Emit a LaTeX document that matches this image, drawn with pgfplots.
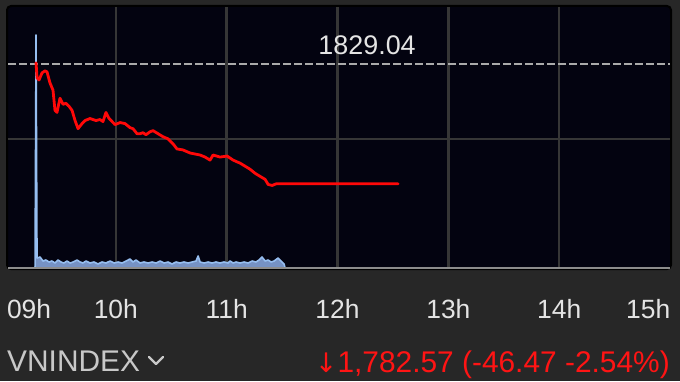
\documentclass[border=0pt]{standalone}
\usepackage{pgfplots}
\pgfplotsset{compat=1.18}
\usepackage{pgfplotstable}
\usepackage{fontspec}
\setmainfont{Liberation Sans}
\newfontfamily\dejavu{DejaVu Sans}

\definecolor{bgdark}{RGB}{39,39,39}
\definecolor{plotbg}{RGB}{3,3,16}
\definecolor{gridgray}{RGB}{54,54,54}
\definecolor{dashgray}{RGB}{170,170,170}
\definecolor{volfill}{RGB}{118,146,196}
\definecolor{volline}{RGB}{150,190,240}
\definecolor{basegray}{RGB}{140,140,140}
\definecolor{redline}{RGB}{255,8,8}
\definecolor{redtext}{RGB}{255,20,20}
\definecolor{labelwhite}{RGB}{228,228,228}
\definecolor{vngray}{RGB}{200,200,200}

\pgfplotstableread{
t v
9.280 1829.43
9.289 1823.55
9.307 1822.76
9.334 1825.51
9.361 1826.29
9.379 1825.90
9.406 1821.58
9.433 1818.84
9.451 1810.98
9.469 1810.20
9.496 1815.70
9.523 1813.34
9.550 1813.73
9.578 1812.56
9.605 1810.98
9.632 1807.06
9.659 1803.92
9.695 1805.88
9.722 1807.06
9.767 1807.84
9.821 1807.06
9.857 1807.45
9.884 1806.67
9.911 1810.20
9.939 1807.84
9.966 1806.67
9.993 1805.49
10.038 1806.28
10.083 1805.88
10.128 1804.31
10.155 1803.92
10.191 1801.96
10.218 1801.96
10.245 1802.35
10.272 1801.57
10.309 1802.74
10.336 1803.14
10.381 1801.96
10.426 1800.78
10.471 1799.99
10.516 1798.03
10.552 1796.07
10.606 1795.68
10.670 1794.50
10.715 1794.11
10.760 1793.72
10.805 1792.93
10.850 1791.75
10.877 1793.72
10.940 1792.93
11.004 1793.32
11.058 1791.75
11.121 1790.57
11.166 1789.40
11.211 1788.22
11.256 1786.65
11.301 1785.47
11.347 1784.30
11.374 1782.33
11.410 1781.94
11.446 1782.57
11.500 1782.57
12.547 1782.57
}\pricetable

\pgfplotstableread{
t vol
9.271 0
9.280 233
9.289 10
9.316 11
9.343 7
9.370 8
9.397 6
9.424 7
9.451 5
9.478 8
9.505 6
9.532 5
9.559 7
9.587 5
9.614 6
9.650 8
9.677 6
9.704 5
9.731 7
9.767 5
9.803 6
9.839 4
9.875 6
9.911 5
9.948 7
9.984 5
10.020 6
10.056 5
10.092 7
10.128 9
10.155 6
10.182 8
10.218 5
10.254 6
10.291 5
10.327 6
10.363 5
10.399 7
10.435 5
10.471 6
10.507 4
10.543 6
10.579 5
10.615 6
10.652 5
10.688 6
10.724 7
10.742 12
10.760 6
10.796 5
10.832 6
10.868 5
10.904 6
10.940 5
10.976 6
11.013 5
11.031 7
11.058 5
11.085 6
11.121 5
11.157 6
11.193 5
11.229 7
11.265 6
11.292 8
11.319 11
11.347 7
11.374 8
11.401 6
11.428 7
11.464 10
11.491 7
11.518 4
11.527 0
}\voltable

\pgfplotsset{base/.style={at={(8bp,113bp)}, anchor=south west, scale only axis,
  width=662bp, height=261bp, xmin=9.027, xmax=15}}

\begin{document}
\begin{tikzpicture}[x=1bp,y=1bp]
\fill[bgdark] (0,0) rectangle (680,381);
\draw[black, line width=2bp, rounded corners=4bp, fill=plotbg] (7,112) rectangle (671,375);

% grid, reference line
\begin{axis}[base, ymin=1750, ymax=1851,
  axis line style={draw=none},
  xtick={10,11,12,13,14}, xticklabels={10h,11h,12h,13h,14h},
  extra x ticks={9.217,14.803}, extra x tick labels={09h,15h},
  extra x tick style={grid=none},
  ytick={1800}, yticklabels={},
  grid=major, grid style={gridgray, line width=2.5bp},
  major tick length=0pt,
  xticklabel style={font=\fontsize{26.5}{30}\selectfont, text=labelwhite, inner sep=0pt, anchor=north},
  xticklabel shift=31bp]
\addplot[dashgray, line width=2.3bp, dash pattern=on 7.5bp off 3.5bp] coordinates {(9.027,1829.04) (15,1829.04)};
\node[anchor=base, inner sep=0pt, text=labelwhite, font=\fontsize{27}{30}\selectfont] at (axis cs:12.267,1832.57) {1829.04};
\end{axis}

% volume
\begin{axis}[base, ymin=0, ymax=261, hide axis]
\addplot[fill=volfill, draw=none] table[x=t,y=vol]{\voltable} \closedcycle;
\addplot[volline, line width=1.6bp, line join=round] table[x=t,y=vol]{\voltable};
\end{axis}
\draw[basegray, line width=2.2bp] (8,113) -- (670,113);

% price
\begin{axis}[base, ymin=1750, ymax=1851, hide axis]
\addplot[redline, line width=2.8bp, line join=round, line cap=round] table[x=t,y=v]{\pricetable};
\end{axis}

\node[anchor=base west, inner sep=0pt, text=vngray, font=\fontsize{30}{34}\selectfont] at (7,10) {VNINDEX};
\draw[vngray, line width=2.4bp, line cap=round, line join=round] (149,24) -- (156,17) -- (163,24);
\node[anchor=base east, inner sep=0pt, text=redtext, font=\fontsize{30}{34}\selectfont] at (670,9) {{\dejavu\fontsize{27}{30}\selectfont ↓}1,782.57 (-46.47 -2.54\%)};
\end{tikzpicture}
\end{document}
